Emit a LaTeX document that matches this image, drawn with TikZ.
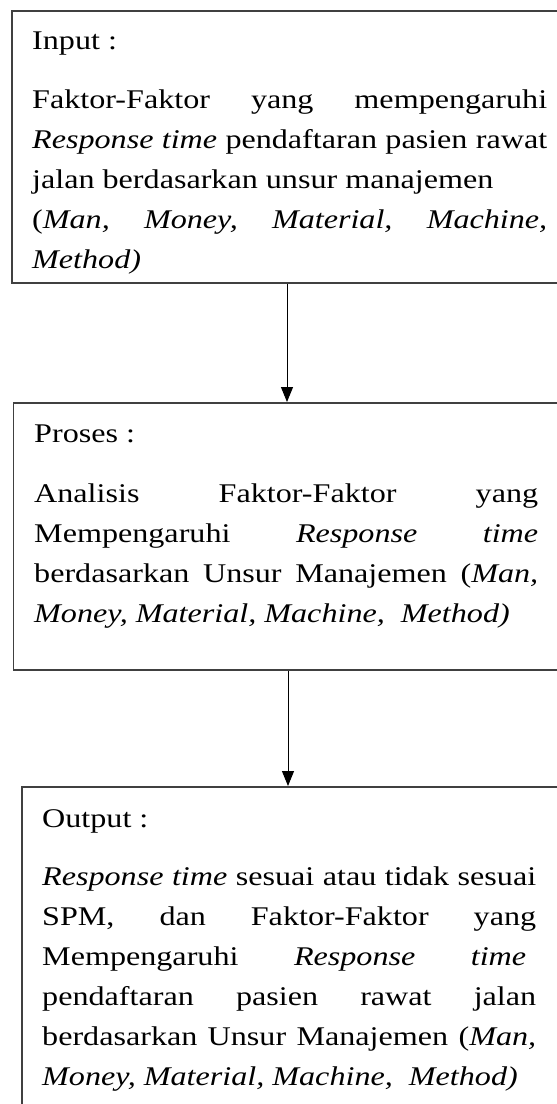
\documentclass[tikz,border=0pt]{standalone}
\usepackage{fontspec}
\setmainfont{Liberation Serif}[FakeStretch=1.19]
\usetikzlibrary{arrows.meta}
\newcommand{\jline}[2]{\makebox[#1][s]{#2}}
\begin{document}
\begin{tikzpicture}[x=1pt,y=-1pt,
  boxstyle/.style={draw=black!75, line width=1.5pt, rectangle, inner sep=0pt, anchor=north west},
  txt/.style={anchor=base west, inner sep=0pt, font=\fontsize{27}{40}\selectfont},
  arr/.style={line width=1pt, -{Triangle[length=15pt,width=12pt]}}]
\useasboundingbox (0,0) rectangle (557,1104);
\clip (0,0) rectangle (557,1104);
% boxes
\node[boxstyle, minimum width=570pt, minimum height=272pt] (b1) at (11,10) {};
\node[boxstyle, minimum width=570pt, minimum height=267pt] (b2) at (12.5,402) {};
\node[boxstyle, minimum width=570pt, minimum height=340pt] (b3) at (21,786) {};
% box 1 text
\node[txt] (h1) at (32,49) {Input :};
\node[txt] (l11) at (32,108) {\jline{515pt}{Faktor-Faktor yang mempengaruhi}};
\node[txt] (l12) at (32,148) {\jline{515pt}{\textit{Response time} pendaftaran pasien rawat}};
\node[txt] (l13) at (32,188) {jalan berdasarkan unsur manajemen};
\node[txt] (l14) at (32,228) {\jline{515pt}{(\textit{Man, Money, Material, Machine,}}};
\node[txt] (l15) at (32,268) {\textit{Method)}};
% box 2 text
\node[txt] (h2) at (34,442) {Proses :};
\node[txt] (l21) at (34,502) {\jline{504pt}{Analisis Faktor-Faktor yang}};
\node[txt] (l22) at (34,542) {\jline{504pt}{Mempengaruhi \textit{Response time}}};
\node[txt] (l23) at (34,582) {\jline{504pt}{berdasarkan Unsur Manajemen (\textit{Man,}}};
\node[txt] (l24) at (34,622) {\textit{Money, Material, Machine,\ \ Method)}};
% box 3 text
\node[txt] (h3) at (42,827) {Output :};
\node[txt] (l31) at (42,885) {\jline{494pt}{\textit{Response time} sesuai atau tidak sesuai}};
\node[txt] (l32) at (42,925) {\jline{494pt}{SPM, dan Faktor-Faktor yang}};
\node[txt] (l33) at (42,965) {\jline{484pt}{Mempengaruhi \textit{Response time}}};
\node[txt] (l34) at (42,1005) {\jline{494pt}{pendaftaran pasien rawat jalan}};
\node[txt] (l35) at (42,1045) {\jline{494pt}{berdasarkan Unsur Manajemen (\textit{Man,}}};
\node[txt] (l36) at (42,1085) {\textit{Money, Material, Machine,\ \ Method)}};
% arrows
\draw[arr] (b1.south -| 287,0) -- (b2.north -| 287,0);
\draw[arr] (b2.south -| 288,0) -- (b3.north -| 288,0);
\end{tikzpicture}
\end{document}
